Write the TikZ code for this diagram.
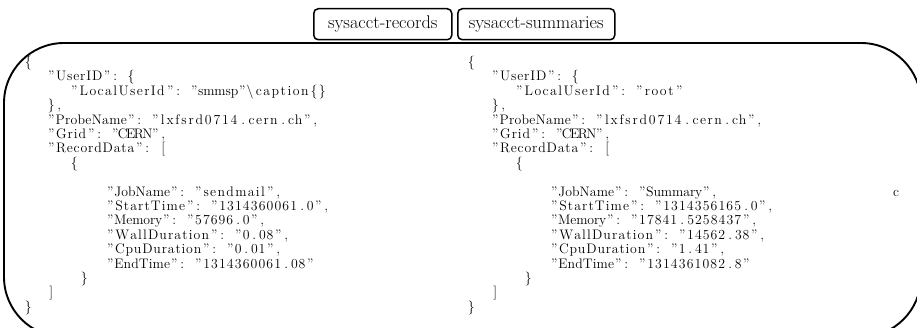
\documentclass[tikz,border=0pt]{standalone}
\usepackage{fontspec}
\ExplSyntaxOn
\dim_new:N \g_ls_w_dim
\dim_gset:Nn \g_ls_w_dim {8pt}
\tl_new:N \l_ls_word_tl
\int_new:N \l_ls_n_int
\int_new:N \l_ls_c_int
\cs_new_protected:Npn \ls_flush:
 {
  \int_compare:nNnT { \l_ls_n_int } > { 0 }
   { \hbox_to_wd:nn { \l_ls_n_int \g_ls_w_dim } { \l_ls_word_tl \hss } }
  \tl_clear:N \l_ls_word_tl
  \int_zero:N \l_ls_n_int
 }
\cs_new_protected:Npn \ls_box:n #1
 { \hbox_to_wd:nn { \g_ls_w_dim } { \hss #1 \hss } }
\cs_new_protected:Npn \ls_token:N #1
 {
  \int_set:Nn \l_ls_c_int { `#1 }
  \bool_lazy_any:nTF
   {
    { \int_compare_p:nNn { \l_ls_c_int } > { 96 } && \int_compare_p:nNn { \l_ls_c_int } < { 123 } }
    { \int_compare_p:nNn { \l_ls_c_int } > { 64 } && \int_compare_p:nNn { \l_ls_c_int } < { 91 } }
    { \int_compare_p:nNn { \l_ls_c_int } > { 47 } && \int_compare_p:nNn { \l_ls_c_int } < { 58 } }
   }
   { \tl_put_right:Nn \l_ls_word_tl { \hss #1 } \int_incr:N \l_ls_n_int }
   {
    \ls_flush:
    \int_case:nnF { \l_ls_c_int }
     {
      { 95 } { \ls_box:n { } }
      { 60 } { \ls_box:n { \{ } }
      { 62 } { \ls_box:n { \} } }
      { 124 } { \ls_box:n { \textbackslash } }
      { 34 } { \ls_box:n { ” } }
     }
     { \ls_box:n { #1 } }
   }
 }
\NewDocumentCommand \lsline { m }
 {
  \hbox:n
   {
    \tl_clear:N \l_ls_word_tl
    \int_zero:N \l_ls_n_int
    \tl_map_function:nN { #1 } \ls_token:N
    \ls_flush:
   }
 }
\ExplSyntaxOff
\begin{document}
\begin{tikzpicture}[x=1pt,y=-1pt,
  code/.style={anchor=base west,inner sep=0pt,font=\fontsize{13.8}{14}\selectfont},
  tab/.style={draw,line width=1.5pt,rounded corners=4.5pt,inner sep=0pt,
    minimum height=31pt,font=\fontsize{18.3}{20}\selectfont,anchor=north west},
  frame/.style={line width=1.9pt,rounded corners=60pt}]
\useasboundingbox (0,0) rectangle (917,328);
\begin{scope}
\clip (0,0) rectangle (917,328);
\draw[frame] (4,43) rectangle (921,337);
\end{scope}
\node[tab,minimum width=138pt] (t1) at (313,8) {sysacct-records};
\node[tab,minimum width=157pt] (t2) at (457,8) {sysacct-summaries};
% left column
\node[code] (l0)  at (24,66.5)   {\lsline{<}};
\node[code] (l1)  at (47,80.9)   {\lsline{"UserID":_<}};
\node[code] (l2)  at (70,95.3)   {\lsline{"LocalUserId":_"smmsp"|caption<>}};
\node[code] (l3)  at (47,109.7)  {\lsline{>,}};
\node[code] (l4)  at (47,124.1)  {\lsline{"ProbeName":_"lxfsrd0714.cern.ch",}};
\node[code] (l5)  at (47,138.5)  {\lsline{"Grid":_"CERN",}};
\node[code] (l6)  at (47,152.9)  {\lsline{"RecordData":_[}};
\node[code] (l7)  at (70,167.3)  {\lsline{<}};
\node[code] (l9)  at (106,196.1) {\lsline{"JobName":_"sendmail",}};
\node[code] (l10) at (106,210.5) {\lsline{"StartTime":_"1314360061.0",}};
\node[code] (l11) at (106,224.9) {\lsline{"Memory":_"57696.0",}};
\node[code] (l12) at (106,239.3) {\lsline{"WallDuration":_"0.08",}};
\node[code] (l13) at (106,253.7) {\lsline{"CpuDuration":_"0.01",}};
\node[code] (l14) at (106,268.1) {\lsline{"EndTime":_"1314360061.08"}};
\node[code] (l15) at (80,282.5)  {\lsline{>}};
\node[code] (l16) at (47,296.9)  {\lsline{]}};
\node[code] (l17) at (24,311.3)  {\lsline{>}};
% right column
\node[code] (r0)  at (467,66.5)  {\lsline{<}};
\node[code] (r1)  at (491,80.9)  {\lsline{"UserID":_<}};
\node[code] (r2)  at (515,95.3)  {\lsline{"LocalUserId":_"root"}};
\node[code] (r3)  at (491,109.7) {\lsline{>,}};
\node[code] (r4)  at (491,124.1) {\lsline{"ProbeName":_"lxfsrd0714.cern.ch",}};
\node[code] (r5)  at (491,138.5) {\lsline{"Grid":_"CERN",}};
\node[code] (r6)  at (491,152.9) {\lsline{"RecordData":_[}};
\node[code] (r7)  at (515,167.3) {\lsline{<}};
\node[code] (r9)  at (550,196.1) {\lsline{"JobName":_"Summary",}};
\node[code] (rc)  at (892,196.1) {\lsline{c}};
\node[code] (r10) at (550,210.5) {\lsline{"StartTime":_"1314356165.0",}};
\node[code] (r11) at (550,224.9) {\lsline{"Memory":_"17841.5258437",}};
\node[code] (r12) at (550,239.3) {\lsline{"WallDuration":_"14562.38",}};
\node[code] (r13) at (550,253.7) {\lsline{"CpuDuration":_"1.41",}};
\node[code] (r14) at (550,268.1) {\lsline{"EndTime":_"1314361082.8"}};
\node[code] (r15) at (524,282.5) {\lsline{>}};
\node[code] (r16) at (491,296.9) {\lsline{]}};
\node[code] (r17) at (467,311.3) {\lsline{>}};
\end{tikzpicture}
\end{document}
